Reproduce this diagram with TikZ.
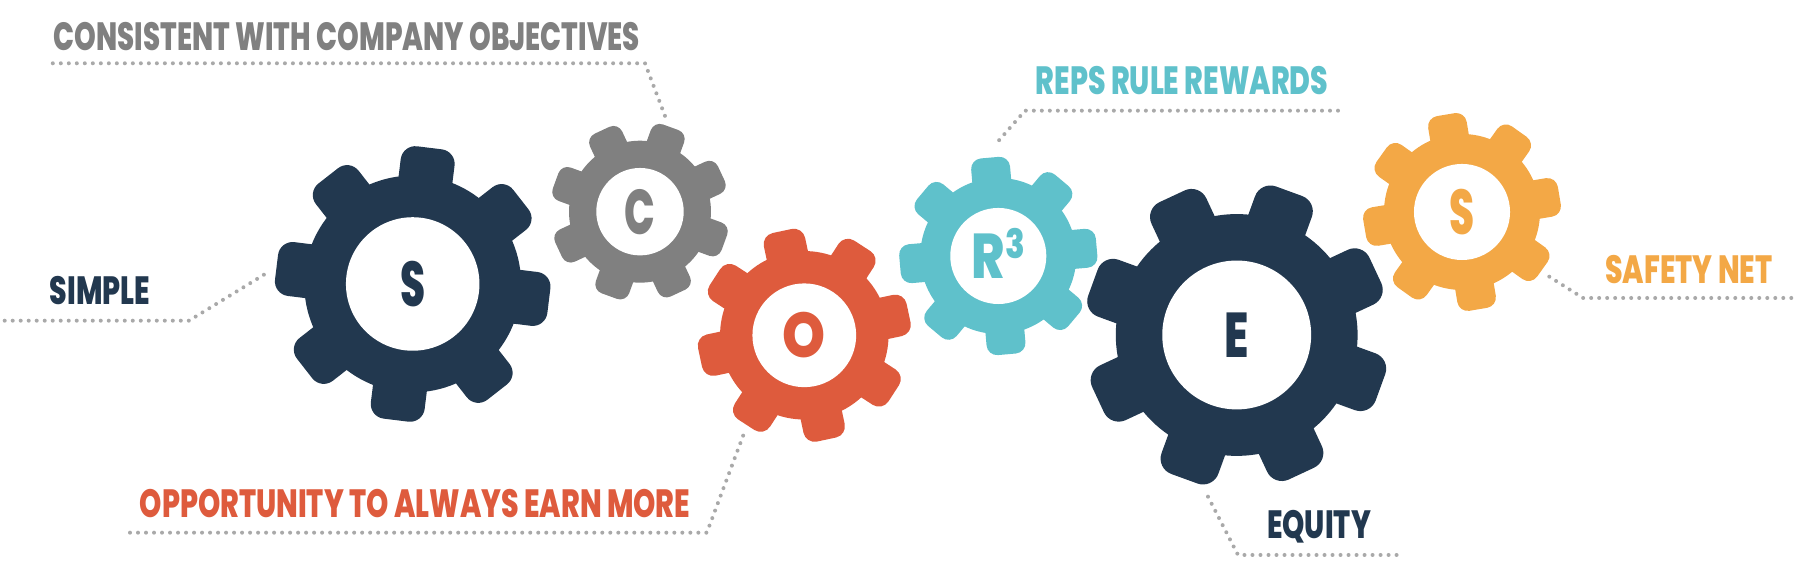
\documentclass[tikz,border=0pt]{standalone}
\usepackage{fontspec}
\setmainfont[FakeStretch=0.72,BoldFont={Poppins ExtraBold}]{Poppins}
\newfontfamily\gearfont[FakeStretch=0.64]{Poppins ExtraBold}
\usepackage{tikz}
\usetikzlibrary{positioning}
\definecolor{cNavy}  {HTML}{22384F}
\definecolor{cGrey}  {HTML}{808080}
\definecolor{cRed}   {HTML}{DE5B3D}
\definecolor{cTeal}  {HTML}{5FC1CB}
\definecolor{cAmber} {HTML}{F3A846}
\definecolor{cDots}  {HTML}{A9A9A9}

\begin{document}
\begin{tikzpicture}[
  x=0.01cm, y=0.01cm,
  hole/.style={circle, fill=white, inner sep=0pt, text=#1,
    font=\fontsize{18}{18}\gearfont},
  lbl/.style={anchor=base, inner sep=0pt, text=#1,
    font=\fontsize{11.2}{12}\bfseries},
  dotline/.style={cDots, line width=0.04cm, line cap=round,
    dash pattern=on 0pt off 0.08cm},
]
\useasboundingbox (0,0) rectangle (1796,571);

%% ── Gears ──────────────────────────────────────────────────────────
\foreach \gname/\gx/\gy/\gs/\grot/\gcol/\gtxt in {
  gearS/412.7/287/1.39/-7/cNavy/S,
  gearC/640/359.3/0.91/25/cGrey/C,
  gearO/804.3/235.7/1.08/12/cRed/{\scalebox{1.35}[1]{O}},
  gearR/998.3/315/1.0/5/cTeal/{\scalebox{1.25}[1]{R\raisebox{5.7pt}[0pt][0pt]{\fontsize{11.5}{12}\selectfont 3}}},
  gearE/1236.7/236/1.55/25/cNavy/{\scalebox{1.1}[1]{E}},
  gearY/1462/359/1.0/9.5/cAmber/S}
{
  \begin{scope}[shift={(\gx,\gy)}, scale=\gs]
    \fill[\gcol] (0,0) circle[radius=78];
    \foreach \a in {0,45,...,315}
      \fill[\gcol, rotate=\grot+\a, rounded corners=\gs*3pt]
        (50,-19.5) rectangle (98.7,19.5);
  \end{scope}
  \node[hole=\gcol, minimum size=\gs*0.96cm] (\gname) at (\gx,\gy) {\gtxt};
}

%% ── Labels ─────────────────────────────────────────────────────────
\node[lbl=cGrey]  (lblC) at (347,520)  {\scalebox{0.975}[1]{CONSISTENT WITH COMPANY OBJECTIVES}};
\node[lbl=cNavy]  (lblS) at (100,266)  {SIMPLE};
\node[lbl=cRed]   (lblO) at (415,53)   {OPPORTUNITY TO ALWAYS EARN MORE};
\node[lbl=cTeal]  (lblR) at (1182,476) {REPS RULE REWARDS};
\node[lbl=cNavy]  (lblE) at (1319,32)  {EQUITY};
\node[lbl=cAmber] (lblY) at (1689,287) {SAFETY NET};

%% ── Dotted leaders ─────────────────────────────────────────────────
\coordinate (cA) at (52.8,507.7);
\coordinate (cB) at (645,507.7);
\coordinate (cC) at (665,455);
\draw[dotline] (cA) -- (cB) -- (cC);

\coordinate (sA) at (4.7,250.3);
\coordinate (sB) at (189,250.3);
\coordinate (sC) at (264,296.3);
\draw[dotline] (sA) -- (sB) -- (sC);

\coordinate (oA) at (130,38.3);
\coordinate (oB) at (706.8,38.3);
\coordinate (oC) at (743.4,136);
\draw[dotline] (oA) -- (oB) -- (oC);

\coordinate (rA) at (1338,460.3);
\coordinate (rB) at (1025,460.3);
\coordinate (rC) at (994,425);
\draw[dotline] (rA) -- (rB) -- (rC);

\coordinate (eA) at (1208,74.3);
\coordinate (eB) at (1238,16);
\coordinate (eC) at (1397,16);
\draw[dotline] (eA) -- (eB) -- (eC);

\coordinate (yA) at (1549.3,294.3);
\coordinate (yB) at (1583,273);
\coordinate (yC) at (1796,273);
\draw[dotline] (yA) -- (yB) -- (yC);

\end{tikzpicture}
\end{document}
